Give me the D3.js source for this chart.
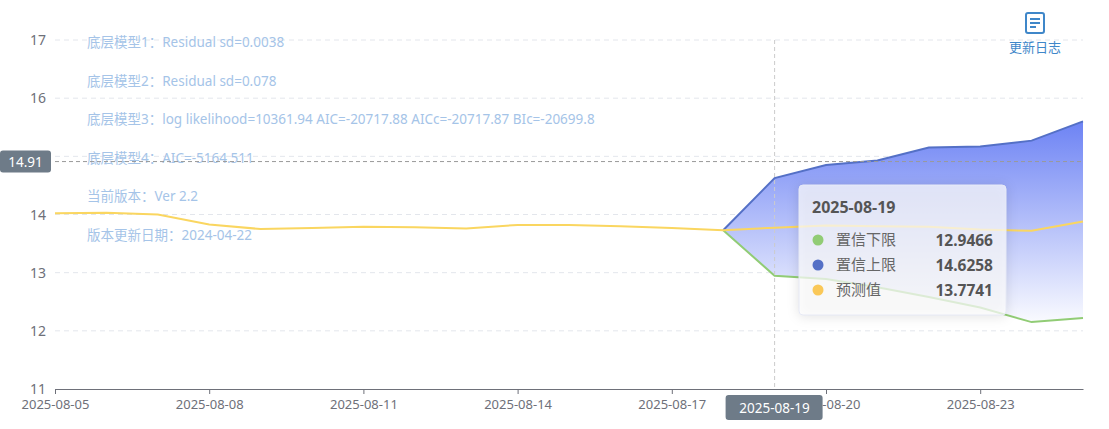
<!DOCTYPE html>
<html><head><meta charset="utf-8">
<script src="https://cdn.jsdelivr.net/npm/d3@7"></script>
<style>body{margin:0;background:#fff;font-family:"Noto Sans","Noto Sans CJK SC",sans-serif}</style>
</head><body><svg id="c" width="1109" height="429"></svg>
<script>
// data
var dates = ["2025-08-05","2025-08-06","2025-08-07","2025-08-08","2025-08-09","2025-08-10","2025-08-11","2025-08-12","2025-08-13","2025-08-14","2025-08-15","2025-08-16","2025-08-17","2025-08-18","2025-08-19","2025-08-20","2025-08-21","2025-08-22","2025-08-23","2025-08-24","2025-08-25"];
var predicted = [14.02,14.03,14.0,13.83,13.75,13.77,13.79,13.78,13.76,13.82,13.82,13.8,13.77,13.73,13.7741,13.81,13.8,13.79,13.74,13.72,13.88];
var upper = [null,null,null,null,null,null,null,null,null,null,null,null,null,13.73,14.6258,14.85,14.93,15.15,15.17,15.27,15.6];
var lower = [null,null,null,null,null,null,null,null,null,null,null,null,null,13.73,12.9466,12.89,12.75,12.58,12.4,12.15,12.22];
var tickDates = ["2025-08-05","2025-08-08","2025-08-11","2025-08-14","2025-08-17","2025-08-20","2025-08-23"];
var notes = ["底层模型1：Residual sd=0.0038","底层模型2：Residual sd=0.078","底层模型3：log likelihood=10361.94 AIC=-20717.88 AICc=-20717.87 BIc=-20699.8","底层模型4：AIC=-5164.511","当前版本：Ver 2.2","版本更新日期：2024-04-22"];

var parse = d3.timeParse("%Y-%m-%d");
var svg = d3.select("#c");
var x = d3.scaleTime().domain([parse(dates[0]), parse(dates[dates.length-1])]).range([55, 1083]);
var y = d3.scaleLinear().domain([11, 17]).range([389, 40]);

// grid
svg.append("g").selectAll("line").data(d3.range(12, 18)).join("line")
  .attr("x1", 55).attr("x2", 1083).attr("y1", d => y(d)).attr("y2", d => y(d))
  .attr("stroke", "#e3e6ec").attr("stroke-dasharray", "5,4");

// y labels
svg.append("g").selectAll("text").data(d3.range(11, 18)).join("text")
  .attr("x", 46).attr("y", d => y(d) + 5).attr("text-anchor", "end")
  .attr("fill", "#6e7079").attr("font-size", 14).text(d => d);

// x axis
var xa = svg.append("g").attr("transform", "translate(0,389)")
  .call(d3.axisBottom(x).tickValues(tickDates.map(parse)).tickFormat(d3.timeFormat("%Y-%m-%d")).tickSize(5).tickSizeOuter(0));
xa.select(".domain").attr("stroke", "#6e7079");
xa.selectAll(".tick line").attr("stroke", "#6e7079");
xa.selectAll("text").attr("fill", "#6e7079").attr("font-size", 13).attr("dy", "0.9em")
  .attr("font-family", "Noto Sans, sans-serif");

// band
var grad = svg.append("defs").append("linearGradient").attr("id", "g")
  .attr("gradientUnits", "userSpaceOnUse").attr("x1", 0).attr("x2", 0).attr("y1", 120).attr("y2", 330);
grad.append("stop").attr("offset", 0).attr("stop-color", "#6c82f4");
grad.append("stop").attr("offset", 1).attr("stop-color", "#ffffff");

var band = dates.map((d, i) => ({d: parse(d), u: upper[i], l: lower[i]})).filter(o => o.u != null);
svg.append("path").datum(band)
  .attr("d", d3.area().x(o => x(o.d)).y0(o => y(o.l)).y1(o => y(o.u)))
  .attr("fill", "url(#g)");

function drawLine(vals, color) {
  var pts = dates.map((d, i) => ({d: parse(d), v: vals[i]})).filter(o => o.v != null);
  svg.append("path").datum(pts)
    .attr("d", d3.line().x(o => x(o.d)).y(o => y(o.v)))
    .attr("fill", "none").attr("stroke", color).attr("stroke-width", 2);
}
drawLine(lower, "#91cc75");
drawLine(upper, "#5470c6");
drawLine(predicted, "#fad660");

// notes
svg.append("g").selectAll("text").data(notes).join("text")
  .attr("x", 87).attr("y", (d, i) => 47 + i * 38.5)
  .attr("fill", "#a5c4e8").attr("font-size", 13.5).text(d => d);

// crosshair
var cx = x(parse("2025-08-19")), cyv = 14.91;
svg.append("line").attr("x1", cx).attr("x2", cx).attr("y1", 40).attr("y2", 389)
  .attr("stroke", "#ccc").attr("stroke-dasharray", "4,3");
svg.append("line").attr("x1", 55).attr("x2", 1083).attr("y1", y(cyv)).attr("y2", y(cyv))
  .attr("stroke", "#999").attr("stroke-dasharray", "4,3");
svg.append("rect").attr("x", 0).attr("y", y(cyv) - 11).attr("width", 51).attr("height", 22).attr("rx", 3).attr("fill", "#6e7b88");
svg.append("text").attr("x", 25.5).attr("y", y(cyv) + 5).attr("text-anchor", "middle").attr("fill", "#fff").attr("font-size", 13.5).text(cyv);
svg.append("rect").attr("x", cx - 49).attr("y", 395).attr("width", 97).attr("height", 25).attr("rx", 3).attr("fill", "#6e7b88");
svg.append("text").attr("x", cx).attr("y", 413).attr("text-anchor", "middle").attr("fill", "#fff").attr("font-size", 13.5).text("2025-08-19");

// tooltip
var tip = svg.append("g").attr("transform", "translate(799,185)");
tip.append("rect").attr("width", 207).attr("height", 130).attr("rx", 4)
  .attr("fill", "rgba(255,255,255,0.72)").attr("stroke", "#e6e9f5")
  .style("filter", "drop-shadow(0 1px 6px rgba(0,0,0,0.15))");
tip.append("text").attr("x", 13).attr("y", 28).attr("fill", "#555").attr("font-size", 16).attr("font-weight", "bold").text("2025-08-19");
var rows = [["置信下限", lower[14], "#91cc75"], ["置信上限", upper[14], "#5470c6"], ["预测值", predicted[14], "#fac858"]];
rows.forEach((r, i) => {
  var yy = 55 + i * 25;
  tip.append("circle").attr("cx", 19).attr("cy", yy).attr("r", 5.5).attr("fill", r[2]);
  tip.append("text").attr("x", 37).attr("y", yy + 5).attr("fill", "#666").attr("font-size", 15).text(r[0]);
  tip.append("text").attr("x", 194).attr("y", yy + 6).attr("text-anchor", "end").attr("fill", "#555").attr("font-size", 15.5).attr("font-weight", "bold").text(r[1].toFixed(4));
});

// icon
var ic = svg.append("g").attr("transform", "translate(1025,12)");
ic.append("rect").attr("x", 1).attr("y", 1).attr("width", 18).attr("height", 20).attr("rx", 2).attr("fill", "none").attr("stroke", "#3f87c9").attr("stroke-width", 2);
[7, 11, 15].forEach((yy, i) => ic.append("line").attr("x1", 5).attr("x2", i == 2 ? 11 : 15).attr("y1", yy).attr("y2", yy).attr("stroke", "#3f87c9").attr("stroke-width", 2));
svg.append("text").attr("x", 1035).attr("y", 52).attr("text-anchor", "middle").attr("fill", "#3f87c9").attr("font-size", 13).text("更新日志");
</script></body></html>
